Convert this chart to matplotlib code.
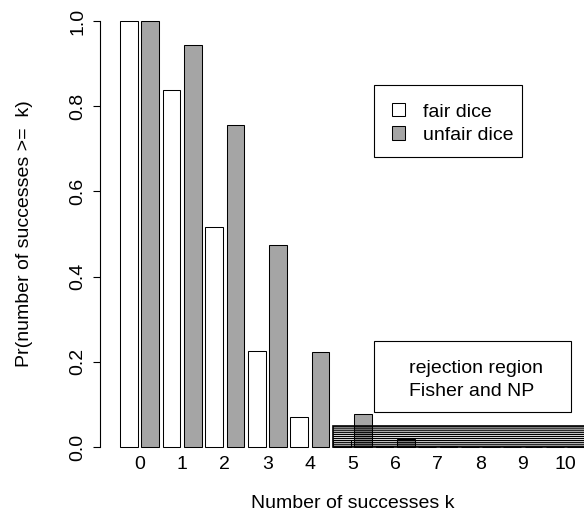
import matplotlib
matplotlib.use("Agg")
import matplotlib.pyplot as plt
from matplotlib.patches import Rectangle

# ---- data ----
k_labels = ["0", "1", "2", "3", "4", "5", "6", "7", "8", "9", "10"]
fair = [1.0, 0.8385, 0.5155, 0.2248, 0.0697, 0.0155, 0.0024, 0.00025, 0.00002, 0.0, 0.0]
unfair = [1.0, 0.9437, 0.7560, 0.4744, 0.2241, 0.0781, 0.0197, 0.0035, 0.0004, 0.00003, 0.0]
yticks = [0.0, 0.2, 0.4, 0.6, 0.8, 1.0]
ytick_labels = ["0.0", "0.2", "0.4", "0.6", "0.8", "1.0"]
reject_from_k = 5
reject_level = 0.05

plt.rcParams['font.family'] = ['Liberation Sans', 'DejaVu Sans']
FS = 14

W, H = 584, 516
fig = plt.figure(figsize=(W / 100, H / 100), dpi=100)

def fx(px):
    return px / W

def fy(py):
    return 1 - py / H

# axes placed so that data mapping matches R barplot layout
ax = fig.add_axes([fx(100), fy(450), fx(584) - fx(100), fy(4) - fy(450)])
ppu = 17.75
ax.set_xlim(0.2 + (100 - 120) / ppu, 0.2 + (584 - 120) / ppu)
ax.set_ylim(-3 / 426, 1 + 17 / 426)

space, width = 0.2, 1.0
n = len(fair)
lefts_fair = [space + (2 * i) * (space + width) for i in range(n)]
lefts_unfair = [space + (2 * i + 1) * (space + width) for i in range(n)]
centers = [(lefts_fair[i] + lefts_unfair[i] + width) / 2 for i in range(n)]

ax.bar(lefts_fair, fair, width=width, align='edge', color='white',
       edgecolor='black', linewidth=0.75, zorder=2)
ax.bar(lefts_unfair, unfair, width=width, align='edge', color='#a5a5a5',
       edgecolor='black', linewidth=0.75, zorder=2)

# rejection region hatched rectangle
plt.rcParams['hatch.linewidth'] = 0.9
rx = lefts_fair[reject_from_k]
rect = Rectangle((rx, 0), 40, reject_level, facecolor='none', edgecolor='black',
                 hatch='-' * 8, linewidth=1.2, zorder=3)
ax.add_patch(rect)

# axes styling
for s in ['top', 'right', 'bottom']:
    ax.spines[s].set_visible(False)
ax.spines['left'].set_bounds(0, 1)
ax.spines['left'].set_linewidth(0.8)

ax.set_yticks(yticks)
ax.set_yticklabels(ytick_labels, fontsize=FS)
ax.tick_params(axis='y', length=5, width=0.8, pad=7.9)
for lab in ax.get_yticklabels():
    lab.set_rotation(90)
    lab.set_rotation_mode('anchor')
    lab.set_ha('center')
    lab.set_va('baseline')

ax.set_xticks(centers)
ax.set_xticklabels(k_labels, fontsize=FS)
ax.tick_params(axis='x', length=0, pad=13.7)
for lab in ax.get_xticklabels():
    lab.set_va('baseline')

fig.text(fx(29), fy(234), "Pr(number of successes >=  k)", rotation=90,
         rotation_mode='anchor', ha='center', va='baseline', fontsize=FS)
fig.text(fx(352.5), fy(508), "Number of successes k", ha='center',
         va='baseline', fontsize=FS)

def fig_rect(x0, y0, x1, y1, **kw):
    r = Rectangle((fx(x0), fy(y1)), fx(x1) - fx(x0), fy(y0) - fy(y1),
                  transform=fig.transFigure, **kw)
    fig.patches.append(r)

# legend 1
fig_rect(374, 85, 522, 157, facecolor='white', edgecolor='black', linewidth=0.8, zorder=5)
fig_rect(392, 103, 405, 116, facecolor='white', edgecolor='black', linewidth=0.75, zorder=6)
fig_rect(392, 126.5, 405, 139.5, facecolor='#a5a5a5', edgecolor='black', linewidth=0.75, zorder=6)
fig.text(fx(423), fy(117), "fair dice", ha='left', va='baseline', fontsize=FS, zorder=7)
fig.text(fx(423), fy(140), "unfair dice", ha='left', va='baseline', fontsize=FS, zorder=7)

# legend 2
fig_rect(374, 341, 571, 412, facecolor='white', edgecolor='black', linewidth=0.8, zorder=5)
fig.text(fx(409), fy(373), "rejection region", ha='left', va='baseline', fontsize=FS, zorder=7)
fig.text(fx(409), fy(396), "Fisher and NP", ha='left', va='baseline', fontsize=FS, zorder=7)

fig.savefig("out.png", dpi=100)
